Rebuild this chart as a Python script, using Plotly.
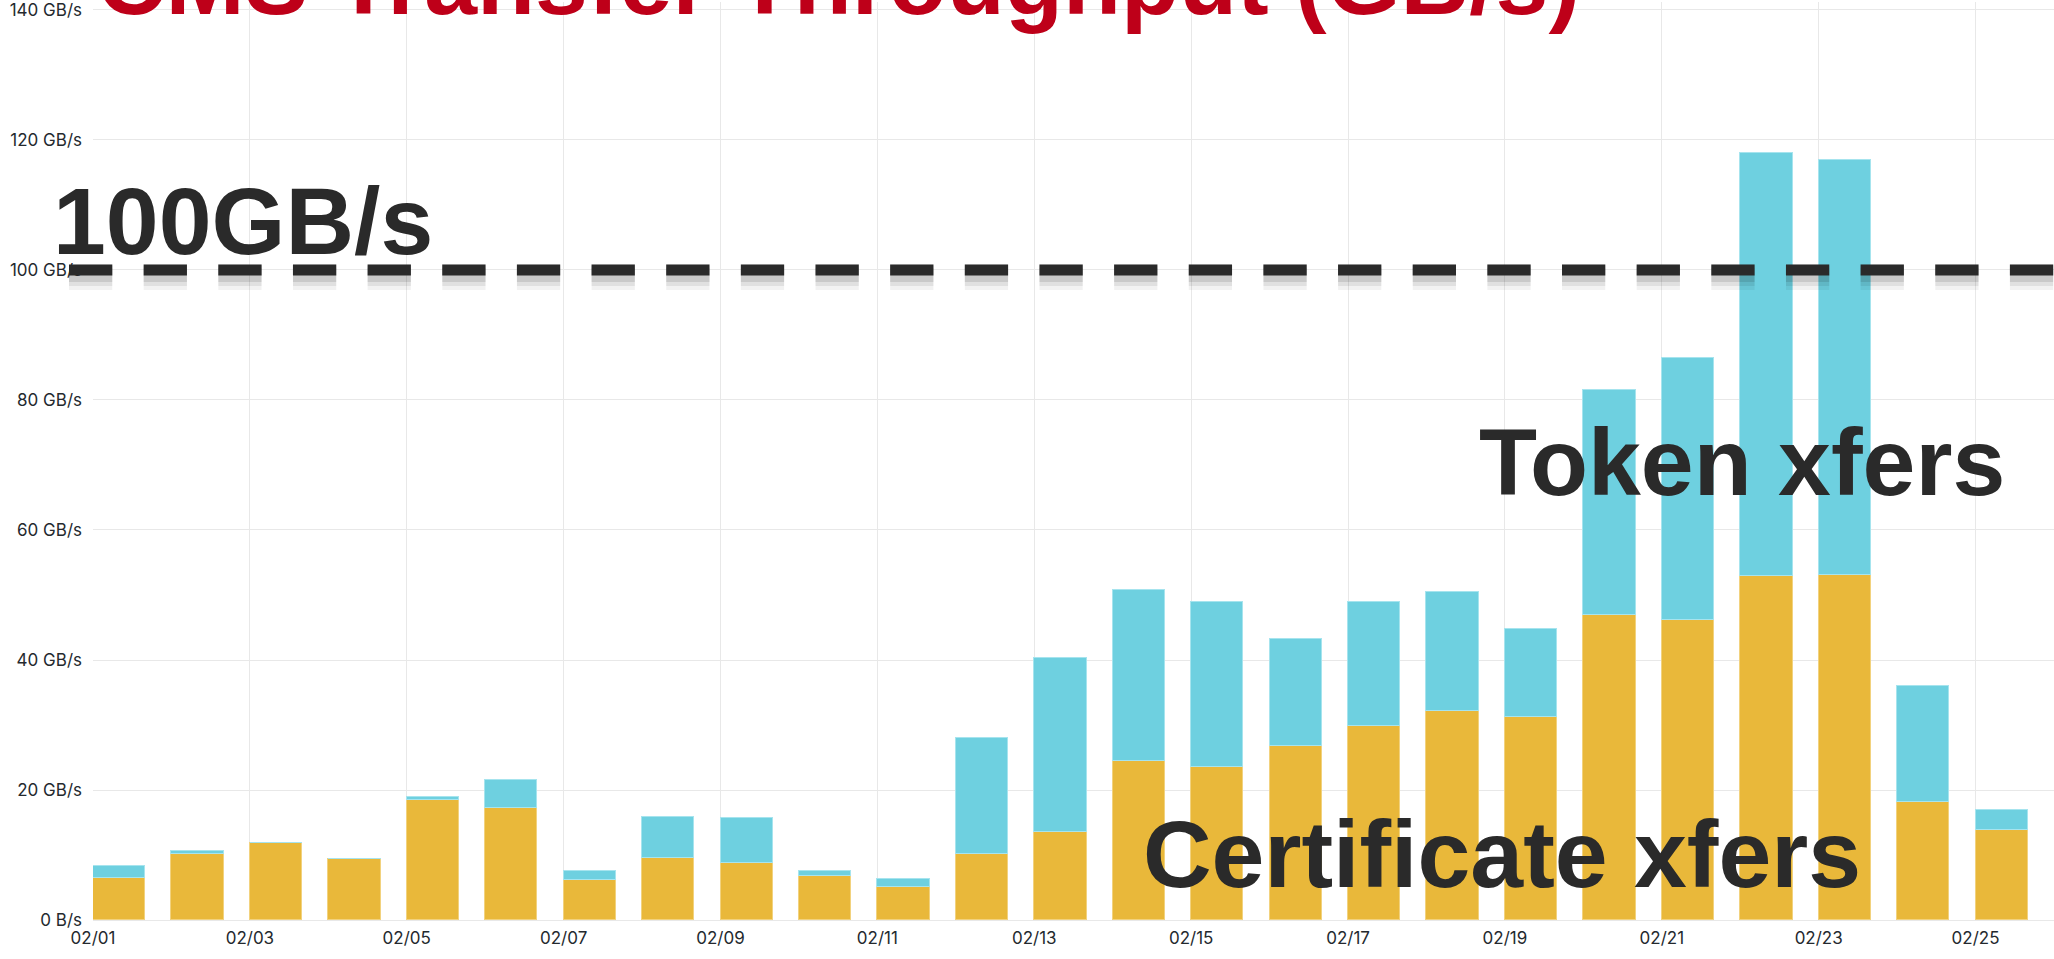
import plotly.graph_objects as go
import pandas as pd

# ---- data ----
days = pd.date_range("2024-02-01", "2024-02-25", freq="D")
cert_xfers = [6.4, 10.1, 11.8, 9.4, 18.4, 17.2, 6.1, 9.6, 8.7, 6.7, 5.1, 10.2, 13.5,
              24.4, 23.6, 26.7, 29.9, 32.1, 31.2, 46.9, 46.2, 52.9, 53.1, 18.1, 13.9]
token_xfers = [1.9, 0.45, 0.0, 0.0, 0.55, 4.3, 1.5, 6.3, 7.0, 0.9, 1.15, 17.8, 26.8,
               26.3, 25.3, 16.6, 19.0, 18.3, 13.6, 34.6, 40.2, 65.1, 63.8, 17.9, 3.1]
y_ticks = [0, 20, 40, 60, 80, 100, 120, 140]
y_tick_labels = ["0 B/s", "20 GB/s", "40 GB/s", "60 GB/s", "80 GB/s",
                 "100 GB/s", "120 GB/s", "140 GB/s"]
threshold = 100
title_text = "CMS Transfer Throughput (GB/s)"

# ---- styling ----
W, H = 2054, 959
ML, MR, MT, MB = 93, 0, 0, 39
YELLOW = "#E9B83A"
CYAN = "#6ED0E0"
DARK = "#2A2A2A"
RED = "#BE0019"
GRID = "#E8E8E8"
TICKFONT = dict(family="Inter, Roboto, sans-serif", size=17, color="#24292E")
BIGFONT = "Liberation Sans, Arial, Helvetica, sans-serif"

day_ms = 24 * 3600 * 1000
bar_w = day_ms * 2 / 3
bar_x = days + pd.Timedelta(hours=8)

fig = go.Figure()
fig.add_trace(go.Bar(x=bar_x, y=cert_xfers, width=bar_w, name="Certificate xfers",
                     marker=dict(color=YELLOW, line=dict(color="#F2D27E", width=1))))
fig.add_trace(go.Bar(x=bar_x, y=token_xfers, width=bar_w, name="Token xfers",
                     marker=dict(color=CYAN, line=dict(color="#A6E4EE", width=1))))

pw = W - ML - MR
ph = H - MT - MB


def px_x(px):
    return (px - ML) / pw


def px_y(py):
    return (H - MB - py) / ph


# dashed threshold line with soft shadow
dash = "43.3px,31.35px"
x0 = px_x(69)
for wdt, alpha, off in [(26, 0.05, -7), (20, 0.07, -6), (14, 0.10, -5)]:
    fig.add_shape(type="line", xref="paper", x0=x0, x1=1.0,
                  yref="y", ysizemode="pixel", yanchor=threshold, y0=off, y1=off,
                  line=dict(color=f"rgba(0,0,0,{alpha})", width=wdt, dash=dash),
                  layer="above")
fig.add_shape(type="line", xref="paper", x0=x0, x1=1.0, yref="y",
              y0=threshold, y1=threshold,
              line=dict(color=DARK, width=11, dash=dash), layer="above")

big = dict(family=BIGFONT, size=95, weight="bold")
annots = [
    (title_text, 96, -21, RED),
    ("100GB/s", 52, 219, DARK),
    ("Token xfers", 1478, 461, DARK),
    ("Certificate xfers", 1142, 854, DARK),
]
for txt, ax_px, ay_px, col in annots:
    fig.add_annotation(text=txt, xref="paper", yref="paper", x=px_x(ax_px), y=px_y(ay_px),
                       xanchor="left", yanchor="middle", showarrow=False,
                       font=dict(**big, color=col), borderpad=0)

fig.update_layout(
    width=W, height=H, barmode="stack", bargap=0,
    margin=dict(l=ML, r=MR, t=MT, b=MB, pad=0),
    paper_bgcolor="white", plot_bgcolor="white", showlegend=False,
    xaxis=dict(type="date", range=[days[0], days[-1] + pd.Timedelta(days=1)],
               dtick=2 * day_ms, tick0=days[0], tickformat="%m/%d",
               showgrid=True, gridcolor=GRID, gridwidth=1, zeroline=False,
               showline=False, ticks="", tickfont=TICKFONT, ticklabelstandoff=6),
    yaxis=dict(range=[0, (H - MB - MT) / ((H - MB - 8) / 140)],
               tickvals=y_ticks, ticktext=y_tick_labels,
               showgrid=True, gridcolor=GRID, gridwidth=1, zeroline=True,
               zerolinecolor=GRID, zerolinewidth=1, showline=False, ticks="",
               tickfont=TICKFONT, ticklabelstandoff=10, ticklabeloverflow="allow"),
)

fig.write_html("out.html", config={"displayModeBar": False},
               post_script="document.body.style.margin='0';document.body.style.overflow='hidden';")
